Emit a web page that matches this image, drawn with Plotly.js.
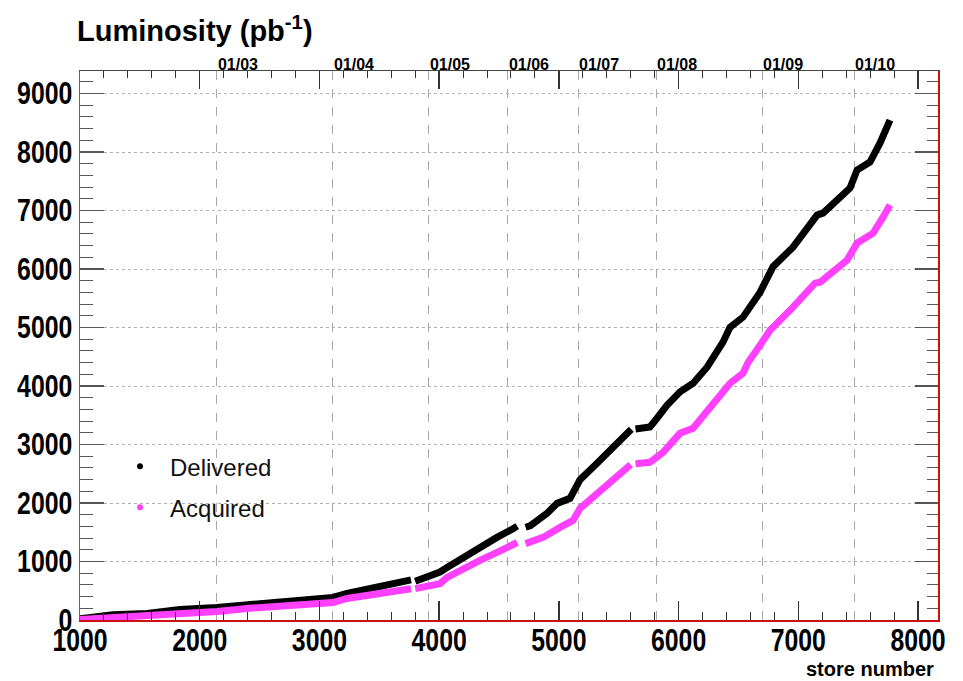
<!DOCTYPE html>
<html>
<head>
<meta charset="utf-8">
<script src="https://cdn.plot.ly/plotly-3.0.1.min.js"></script>
<style>html,body{margin:0;padding:0;background:#fff;}#chart{width:963px;height:681px;}</style>
</head>
<body>
<div id="chart"></div>
<script>
// ---- data ----
const deliveredStore = [1000,1276,1560,1835,2144,2395,2671,2946,3113,3230,3423,3590,3765,3782,3800,3924,4007,4066,4199,4341,4483,4617,4652,4688,4722,4760,4901,4985,5093,5177,5319,5402,5452,5605,5622,5640,5761,5820,5903,6012,6121,6238,6371,6430,6538,6680,6789,6956,7157,7207,7324,7432,7491,7599,7683,7766];
const deliveredLumi  = [20,90,111,180,214,265,299,351,385,453,539,625,685,null,662,745,820,898,1070,1223,1412,1560,1605,null,1585,1610,1823,1994,2079,2400,2678,2850,2950,3262,null,3265,3300,3450,3670,3900,4047,4321,4750,5006,5177,5600,6040,6374,6922,6956,7179,7384,7692,7829,8154,8547];

const acquiredStore = [1000,1276,1560,1835,2144,2395,2671,2946,3113,3230,3423,3590,3765,3782,3800,3924,4007,4066,4199,4341,4483,4634,4652,4688,4722,4760,4868,5010,5118,5177,5319,5402,5452,5600,5620,5640,5761,5870,5954,6012,6121,6288,6430,6538,6580,6680,6764,6956,7140,7182,7407,7491,7624,7708,7766];
const acquiredLumi  = [10,43,60,111,145,197,231,282,299,368,419,488,535,null,537,590,620,727,881,1018,1155,1309,1325,null,1305,1330,1412,1583,1703,1908,2165,2300,2380,2655,null,2672,2695,2866,3072,3191,3277,3670,4047,4218,4400,4697,4953,5348,5758,5775,6152,6443,6614,6888,7093];

const dateStores = [2144,3113,3915,4575,5160,5812,6697,7466];
const dateLabels = ['01/03','01/04','01/05','01/06','01/07','01/08','01/09','01/10'];

const seriesNames = ['Delivered','Acquired'];
const xRange = [1000, 8167];
const yRange = [0, 9385];

// ---- styling ----
const BLACK = '#000000';
const PINK = '#ff40ff';
const SANS = '"Liberation Sans", Arial, sans-serif';

const traces = [
  {x: deliveredStore, y: deliveredLumi, mode: 'lines', line: {color: BLACK, width: 7}, connectgaps: false, showlegend: false, hoverinfo: 'skip'},
  {x: acquiredStore, y: acquiredLumi, mode: 'lines', line: {color: PINK, width: 7}, connectgaps: false, showlegend: false, hoverinfo: 'skip'},
  // legend entries (no data points); they also bring the top / right frame axes into existence
  {x: [null], y: [null], xaxis: 'x2', yaxis: 'y2', mode: 'markers', name: seriesNames[0], marker: {color: BLACK, size: 6}, legendgroup: 'a'},
  {x: [null], y: [null], xaxis: 'x3', yaxis: 'y', mode: 'markers', name: seriesNames[1], marker: {color: PINK, size: 6}, legendgroup: 'b'}
];

const layout = {
  width: 963, height: 681,
  margin: {l: 80, r: 25, t: 71, b: 61},
  paper_bgcolor: '#fff', plot_bgcolor: '#fff',
  hovermode: false,
  title: {
    text: 'Luminosity (pb<sup>-1</sup>)',
    font: {family: SANS, size: 29, color: '#000', weight: 'bold'},
    xref: 'container', yref: 'container',
    x: 77/963, xanchor: 'left', y: 1 - 31/681, yanchor: 'middle'
  },
  xaxis: {
    range: xRange, dtick: 1000, tick0: 0,
    ticks: 'inside', ticklen: 19, tickwidth: 1.5, tickcolor: '#333',
    minor: {dtick: 200, ticks: 'inside', ticklen: 8, tickwidth: 1, tickcolor: '#333'},
    showline: true, linecolor: '#cc1111', linewidth: 1.5,
    showgrid: false, zeroline: false,
    tickfont: {family: SANS, size: 31, color: '#000', weight: 'bold'},
    ticklabelstandoff: -8
  },
  xaxis2: {
    overlaying: 'x', side: 'top', anchor: 'y2', range: xRange,
    tickmode: 'array', tickvals: dateStores, ticktext: dateLabels,
    ticks: '', showline: false, zeroline: false,
    showgrid: true, gridcolor: '#a8a8a8', gridwidth: 1, griddash: 'dash',
    tickfont: {family: SANS, size: 16, color: '#000', weight: 'bold'},
    ticklabelshift: 21, ticklabelstandoff: -3
  },
  xaxis3: {
    overlaying: 'x', side: 'top', anchor: 'y', range: xRange, dtick: 1000, tick0: 0,
    ticks: 'inside', ticklen: 18, tickwidth: 1.5, tickcolor: '#333',
    minor: {dtick: 200, ticks: 'inside', ticklen: 7, tickwidth: 1, tickcolor: '#333'},
    showticklabels: false, showline: true, linecolor: '#444', linewidth: 1.5,
    showgrid: false, zeroline: false
  },
  yaxis: {
    range: yRange, dtick: 1000, tick0: 0,
    ticks: 'inside', ticklen: 24, tickwidth: 1.5, tickcolor: '#555',
    minor: {dtick: 200, ticks: 'inside', ticklen: 13, tickwidth: 1, tickcolor: '#555'},
    showline: true, linecolor: '#666', linewidth: 1.5,
    showgrid: true, gridcolor: '#b0b0b0', gridwidth: 1, griddash: 'dot',
    zeroline: false,
    tickfont: {family: SANS, size: 31, color: '#000', weight: 'bold'},
    ticklabelstandoff: 0
  },
  yaxis2: {
    overlaying: 'y', side: 'right', anchor: 'x2', range: yRange, dtick: 1000, tick0: 0,
    ticks: 'inside', ticklen: 23, tickwidth: 1.5, tickcolor: '#555',
    minor: {dtick: 200, ticks: 'inside', ticklen: 11, tickwidth: 1, tickcolor: '#555'},
    showticklabels: false, showline: true, linecolor: '#cc1111', linewidth: 1.5,
    showgrid: false, zeroline: false
  },
  legend: {
    x: 0.035, y: 0.3205, xanchor: 'left', yanchor: 'top',
    bgcolor: 'rgba(0,0,0,0)', borderwidth: 0,
    font: {family: SANS, size: 24, color: '#111'},
    itemwidth: 50, traceorder: 'grouped', tracegroupgap: 7
  },
  annotations: [{
    text: 'store number', xref: 'paper', yref: 'paper',
    x: 1, xanchor: 'right', xshift: -2, y: -0.09, yanchor: 'middle',
    showarrow: false, font: {family: SANS, size: 20, color: '#000', weight: 'bold'}
  }]
};

Plotly.newPlot('chart', traces, layout, {displayModeBar: false, staticPlot: true}).then(function (gd) {
  // the reference uses a condensed bold face for the tick numbers: squeeze them horizontally
  gd.querySelectorAll('.xtick text, .ytick text').forEach(function (t) {
    var w = t.getComputedTextLength();
    if (w > 0) {
      t.setAttribute('textLength', (w * 0.8).toFixed(1));
      t.setAttribute('lengthAdjust', 'spacingAndGlyphs');
    }
  });
});
</script>
</body>
</html>
